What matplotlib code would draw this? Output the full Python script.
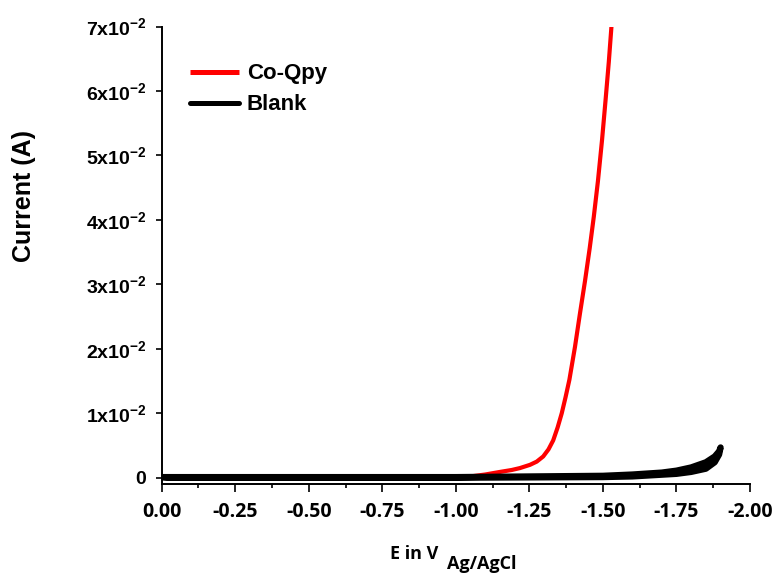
import matplotlib
matplotlib.use("Agg")
import matplotlib.pyplot as plt
import numpy as np

# ---- data ----
red_E = [0.0, -0.50, -0.90, -1.00, -1.05, -1.10, -1.15, -1.19, -1.218, -1.252, -1.275,
         -1.297, -1.315, -1.331, -1.346, -1.360, -1.373, -1.386, -1.405, -1.422, -1.439,
         -1.455, -1.469, -1.483, -1.497, -1.509, -1.520, -1.529, -1.532]
red_I = [0.0, 0.0, 0.0, 0.0000, 0.0002, 0.0005, 0.0009, 0.0012, 0.0015, 0.0020, 0.0025,
         0.0033, 0.0044, 0.0058, 0.0078, 0.0100, 0.0125, 0.0152, 0.0203, 0.0255, 0.0305,
         0.0356, 0.0405, 0.0460, 0.0524, 0.0586, 0.0645, 0.0700, 0.0720]

blank_E = [0.0, -0.25, -0.50, -0.75, -1.00, -1.25, -1.50, -1.60, -1.70, -1.75, -1.80, -1.85,
           -1.88, -1.895, -1.90, -1.895, -1.88, -1.85, -1.80, -1.75, -1.60, -1.50, -1.00,
           -0.50, -0.02, 0.0]
blank_I = [0.0001, 0.0001, 0.0001, 0.0001, 0.0001, 0.0002, 0.0003, 0.0005, 0.0008, 0.0011,
           0.0016, 0.0024, 0.0033, 0.0041, 0.0047, 0.0036, 0.0024, 0.0014, 0.0009, 0.0006,
           0.0002, 0.0001, 0.0000, 0.0000, 0.0000, 0.0001]

xticks = [0.0, -0.25, -0.5, -0.75, -1.0, -1.25, -1.5, -1.75, -2.0]
xticklabels = ["0.00", "-0.25", "-0.50", "-0.75", "-1.00", "-1.25", "-1.50", "-1.75", "-2.00"]
yticks = [0.0, 0.01, 0.02, 0.03, 0.04, 0.05, 0.06, 0.07]
yticklabels = ["0"] + [r"$\mathbf{%dx10^{-2}}$" % k for k in range(1, 8)]

plt.rcParams['mathtext.fontset'] = 'custom'
plt.rcParams['mathtext.bf'] = 'Liberation Sans:bold'
plt.rcParams['mathtext.rm'] = 'Liberation Sans:bold'

W, H = 779, 574
fig = plt.figure(figsize=(W / 100, H / 100), dpi=100)
ax = fig.add_axes([161.7 / W, 1 - 484.3 / H, (750 - 161.7) / W, (484.3 - 26.5) / H])

ax.plot(red_E, red_I, color="#ff0000", lw=3.0, solid_capstyle='butt',
        solid_joinstyle='round', label="Co-Qpy", zorder=2)
ax.plot(blank_E, blank_I, color="black", lw=4.5, solid_capstyle='round',
        solid_joinstyle='round', label="Blank", zorder=3)

ax.set_xlim(0, -2.0)
ax.set_ylim(-0.00102, 0.07)

for s in ["top", "right"]:
    ax.spines[s].set_visible(False)
for s in ["left", "bottom"]:
    ax.spines[s].set_linewidth(1.4)

ax.set_xticks(xticks)
ax.set_xticklabels(xticklabels, fontfamily="Open Sans", fontweight="bold", fontsize=14)
ax.set_xticks(np.arange(0, -2.01, -0.125), minor=True)
ax.set_yticks(yticks)
ax.set_yticklabels(yticklabels, fontfamily="Liberation Sans", fontweight="bold", fontsize=14)
ax.tick_params(axis="x", which="major", direction="out", length=5.5, width=1.2, pad=7)
ax.tick_params(axis="x", which="minor", direction="out", length=3, width=1.2)
ax.tick_params(axis="y", which="major", direction="out", length=4, width=1.2, pad=7)

fig.text(24.5 / W, 1 - 196 / H, "Current (A)", rotation=90, ha="center", va="center",
         fontfamily="Liberation Sans", fontweight="bold", fontsize=18)
fig.text(390 / W, 1 - 559.3 / H, "E in V", ha="left", va="baseline",
         fontfamily="Open Sans", fontweight="bold", fontsize=13)
fig.text(447 / W, 1 - 569.3 / H, "Ag/AgCl", ha="left", va="baseline",
         fontfamily="Open Sans", fontweight="bold", fontsize=13)

leg = ax.legend(loc="upper left", bbox_to_anchor=(190 / W, 1 - 63.5 / H),
                bbox_transform=fig.transFigure, frameon=False, borderpad=0,
                borderaxespad=0, handlelength=2.2, handletextpad=0.35,
                labelspacing=0.45, prop={"family": "Liberation Sans", "weight": "bold", "size": 16})
for h in leg.get_lines():
    h.set_linewidth(3.6)

fig.savefig("out.png", dpi=100)
